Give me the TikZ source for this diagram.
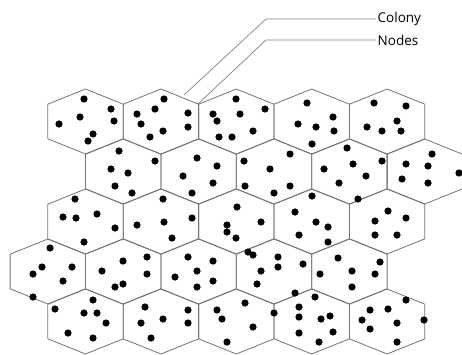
\documentclass[tikz,border=0pt]{standalone}
\usepackage{fontspec}
\setmainfont{Open Sans}
\usepackage{tikz}
\usetikzlibrary{positioning}

\begin{document}
\begin{tikzpicture}[
  x=1pt, y=-1pt,
  cell/.style={draw=black!55, line width=0.8pt, line join=miter},
  lead/.style={draw=black!50, line width=0.7pt},
  lbl/.style={font=\fontsize{13.5}{15}\selectfont, inner sep=1.5pt, anchor=west},
  nodedot/.style={fill=black}]
\useasboundingbox (0,0) rectangle (462,354);
\foreach \r/\off in {0/0, 1/37.7, 2/0, 3/-37.7, 4/0}
  \foreach \c in {0,...,4}
    \draw[cell] ({85.5+\off+75.4*\c},{89+50*\r}) -- ++(37.7,15.2) -- ++(0,34.6)
      -- ++(-37.7,15.2) -- ++(-37.7,-15.2) -- ++(0,-34.6) -- cycle;
\foreach \px/\py in {84/99, 111/109, 80/117, 114/121, 59/124, 93/134, 88/141,
    164/99, 155/109, 137/114, 188/113, 141/124, 188/127, 163/131, 150/137,
    236/99, 265/109, 240/114, 213/114, 217/121, 253/131, 219/137, 232/137,
    307/103, 333/117, 298/124, 316/127, 334/131, 312/144,
    374/103, 406/106, 397/121, 367/127, 382/131, 401/131,
    119/151, 155/161, 111/169, 128/173, 115/186, 132/193,
    197/158, 217/166, 183/176, 213/183, 192/193,
    244/161, 290/154, 270/169, 245/186, 290/186, 274/193,
    347/148, 382/161, 324/169, 353/164, 366/176, 339/183,
    432/154, 406/164, 428/166, 459/173, 402/179, 428/183,
    75/199, 63/217, 76/218, 97/214, 115/228, 84/242,
    163/199, 137/225, 164/222, 192/218, 172/238,
    237/207, 227/225, 227/232, 236/238, 261/222,
    312/196, 295/212, 316/222, 328/227, 299/235, 328/242,
    358/199, 388/211, 406/218, 375/221, 375/235, 397/235,
    50/248, 42/267, 33/274, 72/267, 63/281, 33/297,
    123/261, 147/257, 102/271, 147/274, 123/284, 115/287,
    188/257, 213/261, 197/271, 175/277, 213/281, 197/287,
    248/252, 253/255, 278/257, 278/267, 303/264, 261/271, 257/284, 295/293,
    338/258, 380/262, 320/274, 352/271, 375/274, 352/287,
    93/300, 55/309, 84/313, 97/313, 106/323, 68/333, 93/338,
    145/307, 188/310, 163/319, 141/323, 188/323, 151/338,
    217/310, 222/319, 245/303, 253/327, 227/342, 274/313,
    315/297, 299/307, 299/317, 321/319, 330/316, 333/332, 299/333, 319/342,
    406/300, 370/310, 388/309, 362/320, 397/323, 424/320, 370/329, 397/342}
  \fill[nodedot] (\px,\py) circle (3.6pt);
\node[lbl] (colony) at (376,19) {Colony};
\node[lbl] (nodes) at (376,40) {Nodes};
\coordinate (colonyknee) at (266,19);
\coordinate (nodesknee) at (266,40);
\coordinate (colonytip) at (184,95);
\coordinate (nodestip) at (198,104);
\draw[lead] (colonytip) -- (colonyknee) -- (colony.west);
\draw[lead] (nodestip) -- (nodesknee) -- (nodes.west);
\end{tikzpicture}
\end{document}
